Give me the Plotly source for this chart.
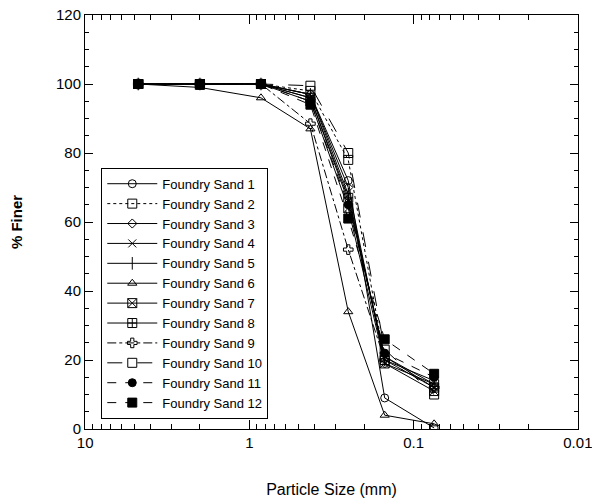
import plotly.graph_objects as go

sieve_mm = [4.75, 2.0, 0.85, 0.425, 0.25, 0.15, 0.075]

sand_names = ["Foundry Sand %d" % i for i in range(1, 13)]
sand_1 = [100, 100, 100, 97, 72, 9, 0.3]
sand_2 = [100, 100, 100, 98, 78, 20, 12]
sand_3 = [100, 100, 100, 97, 70, 19, 13]
sand_4 = [100, 100, 100, 96, 66, 21, 12]
sand_5 = [100, 100, 100, 97, 68, 20, 14]
sand_6 = [100, 99, 96, 87, 34, 4, 1.5]
sand_7 = [100, 100, 100, 95, 64, 19, 11]
sand_8 = [100, 100, 100, 96, 67, 21, 13]
sand_9 = [100, 100, 100, 88.5, 52, 20, 12]
sand_10 = [100, 100, 100, 99.5, 80, 23, 10]
sand_11 = [100, 100, 100, 95, 65, 22, 15]
sand_12 = [100, 100, 100, 94, 61, 26, 16]
series = [sand_1, sand_2, sand_3, sand_4, sand_5, sand_6,
          sand_7, sand_8, sand_9, sand_10, sand_11, sand_12]

x_tick_vals = [10, 1, 0.1, 0.01]
x_tick_text = ["10", "1", "0.1", "0.01"]
y_tick_vals = [0, 20, 40, 60, 80, 100, 120]

symbols = ["circle-open", "square-open", "diamond-open", "x-thin-open", "line-ns-open",
           "triangle-up-open", "square-x-open", "square-cross-open", "cross-open",
           "square-open", "circle", "square"]
sizes = [8, 9, 7, 8, 9, 8, 9, 9, 8, 9, 8, 9]
dashes = ["solid", "dot", "solid", "solid", "solid", "solid", "solid", "solid",
          "dashdot", "longdash", "dash", "dash"]

fig = go.Figure()
for name, ys, sym, sz, ds in zip(sand_names, series, symbols, sizes, dashes):
    fig.add_trace(go.Scatter(
        x=sieve_mm, y=ys, name=name, mode="lines+markers",
        line=dict(color="black", width=1, dash=ds),
        marker=dict(symbol=sym, size=sz, color="black",
                    line=dict(color="black", width=1)),
    ))

x_minor = []
for dec in [1, 0.1, 0.01]:
    for k in range(2, 10):
        x_minor.append(k * dec)

fig.update_layout(
    width=592, height=504,
    margin=dict(l=85, r=14, t=15, b=75, autoexpand=False),
    paper_bgcolor="white", plot_bgcolor="white",
    font=dict(family="Liberation Sans, Arial, sans-serif", size=15, color="black"),
    showlegend=True,
    legend=dict(x=0.033, y=0.631, xanchor="left", yanchor="top",
                bordercolor="black", borderwidth=1, bgcolor="white",
                font=dict(size=13), itemwidth=50, tracegroupgap=0),
)
fig.update_xaxes(
    type="log", range=[1.0008, -2.0008], autorange=False, automargin=False,
    tickmode="array", tickvals=x_tick_vals, ticktext=x_tick_text,
    ticks="inside", ticklen=9, tickcolor="black", tickwidth=1,
    ticklabeloverflow="allow",
    showline=True, linecolor="black", linewidth=1, mirror="ticks",
    showgrid=False, zeroline=False,
    minor=dict(tickmode="array", tickvals=x_minor, ticks="inside", ticklen=5,
               tickcolor="black", showgrid=False),
    title=dict(text="Particle Size (mm)", standoff=33, font=dict(size=16)),
    tickfont=dict(size=15),
)
fig.update_yaxes(
    range=[0, 120], autorange=False, automargin=False,
    tickmode="array", tickvals=y_tick_vals,
    ticks="inside", ticklen=8, tickcolor="black", tickwidth=1,
    showline=True, linecolor="black", linewidth=1, mirror="ticks",
    showgrid=False, zeroline=False,
    minor=dict(dtick=5, ticks="inside", ticklen=4, tickcolor="black", showgrid=False),
    title=dict(text="<b>% Finer</b>", standoff=29, font=dict(size=15)),
    tickfont=dict(size=15),
)

fig.write_html("out.html")
